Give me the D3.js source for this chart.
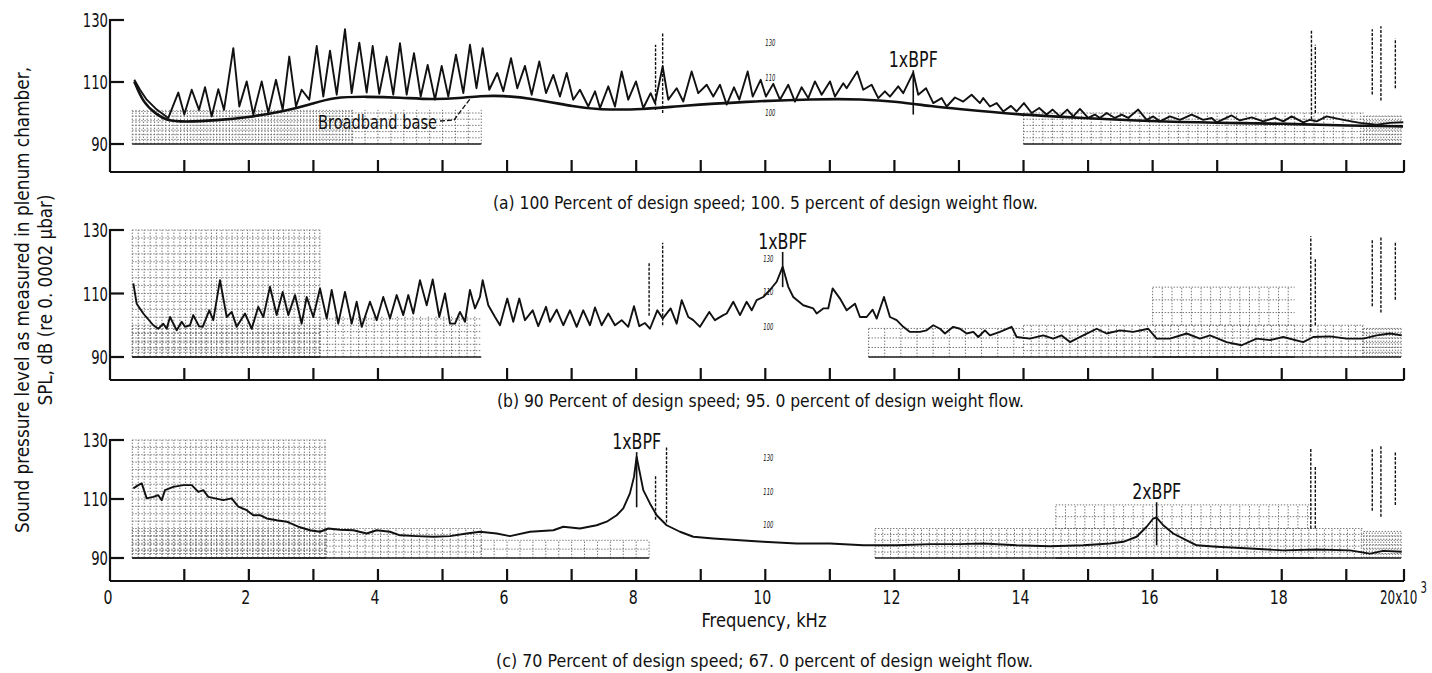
<!DOCTYPE html>
<html>
<head>
<meta charset="utf-8">
<script src="https://cdn.jsdelivr.net/npm/d3@7/dist/d3.min.js"></script>
<style>
  html, body { margin: 0; padding: 0; background: #fff; }
  svg { display: block; }
  text { font-family: "Liberation Sans Narrow", "DejaVu Sans", sans-serif; font-stretch: condensed; fill: #111; }
</style>
</head>
<body>
<svg id="chart" width="1432" height="673"></svg>
<script>
// ---- Frequency axis (kHz) -------------------------------------------------
const freqTicks = d3.range(1, 21);
const freqTickLabels = [0, 2, 4, 6, 8, 10, 12, 14, 16, 18];
const dbTicks = [90, 110, 130];

// ---- (a) 100 % design speed: narrow-band SPL spectrum [kHz, dB] ------------
const specA = [
  [0.327,110.7],[0.404,107.5],[0.494,104.3],[0.629,101.1],[0.785,98.4],[0.919,106.6],
  [1.000,99.5],[1.115,107.5],[1.228,101.0],[1.321,108.3],[1.424,98.9],[1.527,107.7],
  [1.615,101.0],[1.759,120.9],[1.852,102.1],[1.967,110.2],[2.069,99.5],[2.199,110.2],
  [2.301,100.0],[2.420,110.7],[2.524,101.0],[2.626,118.2],[2.730,102.1],[2.818,107.5],
  [2.936,104.3],[3.051,121.6],[3.153,105.3],[3.257,120.1],[3.361,105.9],[3.489,127.0],
  [3.593,106.4],[3.711,122.7],[3.825,106.6],[3.918,121.6],[4.020,106.2],[4.135,118.2],
  [4.237,105.9],[4.341,122.5],[4.445,105.9],[4.558,119.3],[4.662,105.3],[4.770,115.5],
  [4.883,104.3],[4.987,115.2],[5.089,105.3],[5.208,118.8],[5.322,106.4],[5.425,122.0],
  [5.526,108.0],[5.622,120.9],[5.724,107.5],[5.848,112.9],[5.941,107.0],[6.061,117.7],
  [6.158,108.0],[6.277,115.2],[6.381,105.9],[6.499,116.6],[6.603,106.4],[6.716,112.3],
  [6.819,105.3],[6.923,112.9],[7.025,104.3],[7.129,107.5],[7.258,102.1],[7.362,107.0],
  [7.439,101.6],[7.568,108.6],[7.671,102.1],[7.775,113.4],[7.877,104.3],[7.997,110.2],
  [8.110,101.6],[8.224,106.4],[8.291,103.2],[8.410,115.0],[8.497,104.3],[8.627,108.0],
  [8.729,103.7],[8.859,113.4],[8.962,106.4],[9.092,109.1],[9.194,105.3],[9.298,109.1],
  [9.402,102.7],[9.515,108.3],[9.597,104.3],[9.727,113.4],[9.805,105.3],[9.928,110.7],
  [10.010,105.3],[10.123,109.4],[10.227,104.3],[10.356,109.1],[10.459,103.7],[10.563,108.3],
  [10.665,104.8],[10.769,110.2],[10.873,105.9],[11.002,110.2],[11.079,105.3],[11.208,109.6],
  [11.260,108.0],[11.424,113.4],[11.517,107.5],[11.647,109.1],[11.750,104.8],[11.853,107.0],
  [11.931,105.3],[12.059,108.6],[12.137,106.4],[12.292,113.0],[12.369,105.9],[12.489,108.0],
  [12.602,103.2],[12.732,104.8],[12.809,102.1],[12.938,105.0],[13.066,103.7],[13.196,105.9],
  [13.325,103.2],[13.376,104.8],[13.480,102.1],[13.584,103.2],[13.686,100.5],[13.805,102.3],
  [13.893,100.5],[14.006,103.2],[14.126,100.0],[14.243,101.6],[14.358,99.5],[14.451,101.1],
  [14.564,98.9],[14.677,101.1],[14.770,98.9],[14.874,101.3],[15.002,98.4],[15.106,99.5],
  [15.184,98.4],[15.287,100.0],[15.416,98.4],[15.520,99.5],[15.622,98.4],[15.777,101.1],
  [15.907,97.8],[16.009,98.9],[16.113,97.3],[16.268,98.9],[16.423,97.8],[16.604,99.5],
  [16.784,97.8],[16.914,98.4],[16.991,97.0],[17.224,99.2],[17.352,97.6],[17.534,98.6],
  [17.713,97.3],[17.894,98.4],[18.023,97.3],[18.153,98.9],[18.333,97.0],[18.436,97.8],
  [18.540,97.3],[18.695,98.9],[18.952,97.8],[19.237,96.8],[19.527,96.2],[19.757,96.8],
  [19.988,97.0]
];
// broadband base drawn under the tones of (a)
const baseA = [
  [0.327,110.2],[0.448,103.2],[0.629,99.5],[0.763,97.6],[0.987,97.1],[1.502,97.6],
  [2.018,98.7],[2.534,100.5],[2.947,102.7],[3.308,105.1],[3.825,105.3],[4.341,105.0],
  [4.857,104.3],[5.270,104.8],[5.580,105.5],[5.936,105.6],[6.355,104.8],[7.078,101.9],
  [7.388,101.1],[8.110,101.1],[8.678,102.3],[9.711,103.7],[10.743,104.5],[11.517,104.5],
  [12.035,103.7],[12.602,102.1],[12.938,101.4],[13.893,99.5],[14.921,98.4],[15.957,97.3],
  [16.991,96.8],[18.018,96.6],[19.064,95.9],[19.983,95.7]
];

// ---- (b) 90 % design speed ------------------------------------------------
const specB = [
  [0.314,113.2],[0.359,106.8],[0.448,103.7],[0.583,100.0],[0.650,98.9],[0.717,100.5],
  [0.763,98.9],[0.808,102.6],[0.898,98.4],[0.965,101.1],[1.011,99.5],[1.088,100.0],
  [1.139,103.2],[1.228,99.7],[1.285,99.5],[1.387,104.7],[1.449,101.6],[1.553,114.2],
  [1.657,102.6],[1.734,104.2],[1.812,99.5],[1.940,103.7],[2.044,98.9],[2.146,105.8],
  [2.224,102.6],[2.327,112.1],[2.431,103.2],[2.524,110.5],[2.611,103.2],[2.715,109.5],
  [2.818,100.5],[2.896,108.9],[2.998,102.6],[3.102,111.6],[3.206,102.1],[3.283,111.1],
  [3.385,100.5],[3.489,110.5],[3.593,100.5],[3.670,107.4],[3.748,99.5],[3.876,107.4],
  [3.980,101.6],[4.082,108.9],[4.186,102.1],[4.290,109.5],[4.392,103.2],[4.470,109.5],
  [4.547,103.7],[4.651,114.2],[4.755,106.3],[4.848,114.4],[4.950,102.6],[5.038,110.0],
  [5.116,100.5],[5.193,100.5],[5.270,104.2],[5.348,101.1],[5.425,111.1],[5.503,105.3],
  [5.580,108.9],[5.622,114.2],[5.709,106.3],[5.813,102.6],[5.890,100.0],[6.003,108.4],
  [6.096,101.1],[6.189,108.4],[6.277,101.6],[6.397,104.7],[6.483,99.7],[6.603,105.8],
  [6.664,101.1],[6.768,104.9],[6.871,100.0],[6.974,104.7],[7.078,99.5],[7.180,104.7],
  [7.284,100.0],[7.362,105.6],[7.465,100.0],[7.568,103.7],[7.671,100.0],[7.775,101.6],
  [7.877,99.5],[7.966,106.0],[8.048,99.7],[8.136,100.7],[8.213,98.9],[8.327,104.7],
  [8.410,102.1],[8.534,105.3],[8.627,100.5],[8.705,107.9],[8.807,102.6],[8.884,101.6],
  [8.988,99.5],[9.132,104.2],[9.220,101.6],[9.349,103.2],[9.402,103.7],[9.504,107.4],
  [9.608,103.2],[9.711,107.4],[9.789,104.7],[9.866,107.9],[9.968,108.9],[10.072,111.1],
  [10.176,113.7],[10.269,118.4],[10.356,112.1],[10.433,108.9],[10.588,106.3],[10.743,105.3],
  [10.796,103.7],[10.898,105.3],[10.975,105.3],[11.043,111.6],[11.157,108.4],[11.260,104.7],
  [11.389,106.8],[11.466,102.6],[11.570,102.6],[11.663,104.9],[11.725,102.1],[11.838,108.9],
  [11.931,102.6],[12.035,101.6],[12.137,99.5],[12.241,97.9],[12.396,97.9],[12.499,98.4],
  [12.602,100.0],[12.706,98.9],[12.783,97.4],[12.911,99.5],[13.015,98.9],[13.119,97.4],
  [13.222,97.9],[13.299,96.3],[13.402,98.4],[13.480,96.8],[13.635,97.9],[13.816,99.5],
  [13.893,96.3],[14.099,95.8],[14.305,96.8],[14.460,95.8],[14.590,96.8],[14.719,94.7],
  [14.925,96.8],[15.133,98.9],[15.287,97.4],[15.494,98.4],[15.699,97.9],[15.932,98.9],
  [16.062,95.8],[16.268,95.8],[16.527,97.4],[16.733,95.8],[16.888,96.8],[17.146,94.7],
  [17.379,93.7],[17.611,95.8],[17.817,95.3],[18.023,96.3],[18.333,94.7],[18.488,96.3],
  [18.746,96.5],[19.007,95.8],[19.295,95.8],[19.527,96.8],[19.757,97.4],[19.960,96.8]
];

// ---- (c) 70 % design speed ------------------------------------------------
const specC = [
  [0.314,113.6],[0.381,114.7],[0.427,115.3],[0.494,110.2],[0.583,110.7],[0.650,111.3],
  [0.696,109.6],[0.740,113.0],[0.852,114.1],[0.987,114.7],[1.115,114.7],[1.217,112.4],
  [1.294,113.0],[1.372,110.7],[1.476,110.2],[1.604,109.6],[1.734,110.2],[1.836,107.4],
  [1.967,106.2],[2.069,104.5],[2.173,104.5],[2.276,103.4],[2.431,102.8],[2.586,102.3],
  [2.766,100.6],[2.947,99.4],[3.102,98.9],[3.231,100.0],[3.412,99.6],[3.618,99.4],
  [3.825,98.3],[3.980,99.4],[4.186,98.9],[4.341,97.7],[4.600,97.4],[4.857,97.2],
  [5.116,97.4],[5.374,98.3],[5.580,98.9],[5.839,98.3],[6.045,97.4],[6.355,98.9],
  [6.716,99.4],[6.871,100.6],[7.129,100.0],[7.388,101.1],[7.543,102.3],[7.698,104.5],
  [7.800,106.8],[7.903,111.9],[7.966,117.5],[8.007,124.3],[8.048,119.8],[8.110,113.0],
  [8.213,108.5],[8.317,104.5],[8.472,101.1],[8.678,98.9],[8.884,97.2],[9.194,96.6],
  [9.608,96.0],[9.968,95.5],[10.485,94.9],[11.002,94.9],[11.517,94.3],[12.035,94.3],
  [12.551,94.7],[13.015,94.7],[13.376,94.9],[13.893,94.3],[14.410,94.0],[14.925,94.3],
  [15.339,94.9],[15.545,95.5],[15.752,97.2],[15.907,100.6],[16.009,103.4],[16.062,103.7],
  [16.164,101.1],[16.319,98.3],[16.527,96.0],[16.682,94.3],[16.991,93.8],[17.507,93.2],
  [18.023,92.6],[18.540,92.9],[19.064,92.6],[19.411,91.5],[19.641,92.4],[19.960,92.1]
];

// blade-passing-frequency markers: [panel, label, kHz, top dB, bottom dB]
const bpfMarks = [
  ["a", "1xBPF", 12.292, 113.8, 99.5],
  ["b", "1xBPF", 10.269, 123.1, 112.0],
  ["c", "1xBPF", 8.007, 125.9, 107.2],
  ["c", "2xBPF", 16.062, 108.9, 94.3]
];

// recorder chart-paper grid blocks: [panel, f0, f1, dB0, dB1, line step kHz, dB step]
const paperGrid = [
  ["a", 0.30, 3.60, 90, 101, 0.05, 1.5], ["a", 3.60, 5.60, 90, 101, 0.2, 2],
  ["a", 14.0, 19.30, 90, 100, 0.15, 2], ["a", 19.3, 19.95, 90, 99, 0.05, 1.5],
  ["b", 0.30, 3.10, 90, 130, 0.08, 2.5], ["b", 0.30, 3.10, 90, 100, 0.08, 1.5],
  ["b", 3.10, 5.60, 90, 103, 0.12, 2],
  ["b", 11.6, 14.0, 90, 99, 0.25, 3], ["b", 14.0, 19.30, 90, 100, 0.12, 2],
  ["b", 16.0, 18.2, 100, 112, 0.15, 4], ["b", 19.3, 19.95, 90, 99, 0.05, 1.5],
  ["c", 0.30, 3.20, 90, 130, 0.08, 2.5], ["c", 0.30, 3.20, 90, 100, 0.08, 1.5],
  ["c", 3.20, 5.60, 90, 100, 0.12, 2],
  ["c", 5.60, 8.20, 90, 96, 0.2, 3], ["c", 11.7, 19.30, 90, 100, 0.12, 2],
  ["c", 14.5, 18.5, 100, 108, 0.15, 4], ["c", 19.3, 19.95, 90, 99, 0.05, 1.5]
];

// analyser calibration strips: [panel, kHz, dB from, dB to]
const calStrips = [
  ["a", 8.30, 101, 122], ["a", 8.41, 100, 126], ["a", 18.46, 98, 127], ["a", 18.52, 100, 122],
  ["a", 19.45, 106, 127], ["a", 19.60, 104, 128], ["a", 19.85, 108, 124],
  ["b", 8.20, 103, 120], ["b", 8.41, 100, 126], ["b", 18.45, 98, 128], ["b", 18.52, 100, 121],
  ["b", 19.45, 106, 127], ["b", 19.60, 104, 128], ["b", 19.85, 108, 126],
  ["c", 8.30, 103, 118], ["c", 8.47, 102, 128], ["c", 18.45, 100, 127], ["c", 18.52, 100, 121],
  ["c", 19.45, 106, 127], ["c", 19.60, 104, 128], ["c", 19.85, 108, 126]
];

// small scale legends printed by the analyser: [panel, kHz, dB, text]
const printedScale = [
  ["a", 10.0, 122.6, "130"], ["a", 10.0, 111.4, "110"], ["a", 10.0, 100.1, "100"],
  ["b", 9.97, 120.8, "130"], ["b", 9.97, 110.5, "110"], ["b", 9.97, 99.4, "100"],
  ["c", 9.97, 123.9, "130"], ["c", 9.97, 112.4, "110"], ["c", 9.97, 101.1, "100"]
];

const captions = {
  a: "(a) 100 Percent of design speed;  100. 5 percent of design weight flow.",
  b: "(b) 90 Percent of design speed;  95. 0 percent of design weight flow.",
  c: "(c) 70 Percent of design speed;  67. 0 percent of design weight flow."
};

// ---- layout --------------------------------------------------------------
const svg = d3.select("#chart");
const x = d3.scaleLinear().domain([0, 1, 19, 20]).range([110, 184.3, 1346.3, 1404]);
const axisLeft = 110, axisRight = 1404;

// narrow label helper: fixes the run length so the condensed face is kept
function label(sel, str, size, len) {
  const t = sel.append("text").attr("font-size", size).text(str);
  if (len) t.attr("textLength", len).attr("lengthAdjust", "spacingAndGlyphs");
  return t;
}

const panels = [
  { id: "a", top: 20,  y90: 144, bottom: 172, spec: specA, capY: 209, capLen: 545, capX: 493 },
  { id: "b", top: 230, y90: 357, bottom: 380, spec: specB, capY: 407, capLen: 527, capX: 497 },
  { id: "c", top: 440, y90: 558, bottom: 581, spec: specC, capY: 667, capLen: 537, capX: 496 }
];

panels.forEach(p => {
  const y = d3.scaleLinear().domain([90, 130]).range([p.y90, p.top]);
  const g = svg.append("g").attr("class", "panel-" + p.id);

  // chart paper texture
  const pg = g.append("g").attr("stroke", "#000").attr("stroke-width", 0.9)
    .attr("stroke-dasharray", "1.4,1.6").attr("opacity", 0.6);
  paperGrid.filter(b => b[0] === p.id).forEach(([, f0, f1, d0, d1, step, dstep]) => {
    d3.range(f0, f1 + 1e-6, step).forEach(f => {
      pg.append("line").attr("x1", x(f)).attr("x2", x(f)).attr("y1", y(d0)).attr("y2", y(d1));
    });
    d3.range(d0, d1 + 1e-6, dstep).forEach(d => {
      pg.append("line").attr("x1", x(f0)).attr("x2", x(f1)).attr("y1", y(d)).attr("y2", y(d));
    });
    g.append("line").attr("x1", x(f0)).attr("x2", x(f1)).attr("y1", y(90)).attr("y2", y(90))
      .attr("stroke", "#222").attr("stroke-width", 1.3);
  });
  calStrips.filter(s => s[0] === p.id).forEach(([, f, d0, d1]) => {
    g.append("line").attr("x1", x(f)).attr("x2", x(f)).attr("y1", y(d0)).attr("y2", y(d1))
      .attr("stroke", "#111").attr("stroke-width", 1.4).attr("stroke-dasharray", "3,1.5");
  });
  printedScale.filter(s => s[0] === p.id).forEach(([, f, d, s]) => {
    label(g, s, 8, 10).attr("x", x(f)).attr("y", y(d) + 3).attr("font-style", "italic").attr("fill", "#333");
  });

  // axes
  const ax = g.append("g").attr("stroke", "#111").attr("stroke-width", 2.2).attr("fill", "none");
  ax.append("line").attr("x1", axisLeft).attr("x2", axisLeft).attr("y1", y(130) - 1).attr("y2", p.bottom);
  ax.append("line").attr("x1", axisLeft).attr("x2", axisRight).attr("y1", p.bottom).attr("y2", p.bottom);
  dbTicks.forEach(d => {
    ax.append("line").attr("x1", axisLeft).attr("x2", axisLeft + 14).attr("y1", y(d)).attr("y2", y(d));
    label(g, d, 19, String(d).length * 8.4).attr("x", axisLeft - 2).attr("y", y(d) + 7)
      .attr("text-anchor", "end");
  });
  freqTicks.forEach(f => {
    ax.append("line").attr("x1", x(f)).attr("x2", x(f)).attr("y1", p.bottom).attr("y2", p.bottom - 12);
  });

  // broadband base
  if (p.id === "a") {
    g.append("path").datum(baseA)
      .attr("d", d3.line().curve(d3.curveBasis).x(d => x(d[0])).y(d => y(d[1])))
      .attr("fill", "none").attr("stroke", "#111").attr("stroke-width", 2.6);
  }

  // spectrum
  g.append("path").datum(p.spec)
    .attr("d", d3.line().x(d => x(d[0])).y(d => y(d[1])))
    .attr("fill", "none").attr("stroke", "#111").attr("stroke-width", 1.9)
    .attr("stroke-linejoin", "round");

  // BPF markers
  bpfMarks.filter(m => m[0] === p.id).forEach(([, lab, f, d1, d0]) => {
    g.append("line").attr("x1", x(f)).attr("x2", x(f)).attr("y1", y(d1)).attr("y2", y(d0))
      .attr("stroke", "#111").attr("stroke-width", 1.6);
    label(g, lab, 21, 49).attr("x", x(f)).attr("y", y(d1) - 3).attr("text-anchor", "middle");
  });

  if (p.id === "a") {
    label(g, "Broadband base", 20, 119).attr("x", 318).attr("y", 129);
    g.append("path").attr("d", `M440,121 L454,120 L${x(5.45)},${y(105.2)}`)
      .attr("fill", "none").attr("stroke", "#111").attr("stroke-width", 1.3).attr("stroke-dasharray", "5,2");
  }

  // caption
  label(g, captions[p.id], 18, p.capLen).attr("x", p.capX).attr("y", p.capY);

  // frequency labels on the bottom panel
  if (p.id === "c") {
    freqTickLabels.forEach(f => {
      label(g, f, 19, String(f).length * 9).attr("x", x(f) - (f === 0 ? 2 : 3)).attr("y", p.bottom + 23)
        .attr("text-anchor", "middle");
    });
    // last tick carries the x10^3 multiplier, squeezed to the narrow face
    g.append("text").attr("font-size", 19)
      .attr("transform", `translate(${x(20) - 24},${p.bottom + 23}) scale(0.7,1)`).text("20x10");
    g.append("text").attr("font-size", 15)
      .attr("transform", `translate(${x(20) + 16.5},${p.bottom + 12}) scale(0.75,1)`).text("3");
    label(g, "Frequency, kHz", 19, 125).attr("x", 764).attr("y", 627).attr("text-anchor", "middle");
  }
});

// shared ordinate title
const yt = svg.append("g").attr("transform", "translate(0,300) rotate(-90)");
label(yt, "Sound pressure level as measured in plenum chamber,", 19, 466)
  .attr("x", 0).attr("y", 29).attr("text-anchor", "middle");
label(yt, "SPL, dB (re 0. 0002 \u03bcbar)", 19, 211)
  .attr("x", 0).attr("y", 52).attr("text-anchor", "middle");
</script>
</body>
</html>
